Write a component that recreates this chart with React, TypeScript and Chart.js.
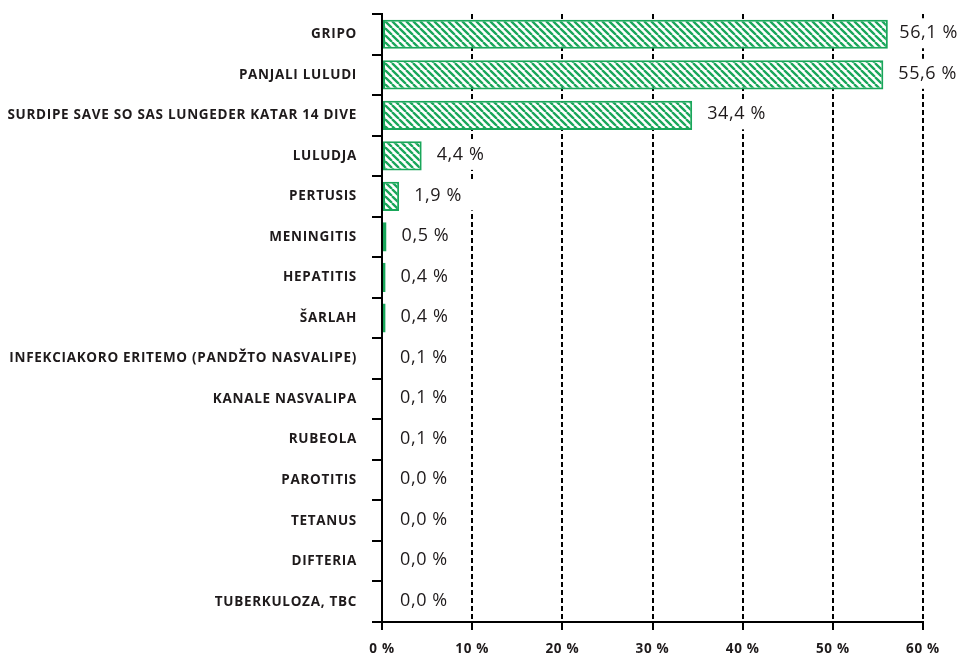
import { useEffect, useRef } from 'react';
import { Chart, registerables } from 'chart.js';

Chart.register(...registerables);

const categories = [
  'GRIPO',
  'PANJALI LULUDI',
  'SURDIPE SAVE SO SAS LUNGEDER KATAR 14 DIVE',
  'LULUDJA',
  'PERTUSIS',
  'MENINGITIS',
  'HEPATITIS',
  'ŠARLAH',
  'INFEKCIAKORO ERITEMO (PANDŽTO NASVALIPE)',
  'KANALE NASVALIPA',
  'RUBEOLA',
  'PAROTITIS',
  'TETANUS',
  'DIFTERIA',
  'TUBERKULOZA, TBC',
];

const values = [56.1, 55.6, 34.4, 4.4, 1.9, 0.5, 0.4, 0.4, 0.1, 0.1, 0.1, 0.0, 0.0, 0.0, 0.0];

const xTickValues = [0, 10, 20, 30, 40, 50, 60];
const xTickLabels = ['0 %', '10 %', '20 %', '30 %', '40 %', '50 %', '60 %'];

const valueTexts = values.map((v) => v.toFixed(1).replace('.', ',') + ' %');

export default function App() {
  const ref = useRef<HTMLCanvasElement>(null);

  useEffect(() => {
    const canvas = ref.current!;
    const green = '#19a65a';
    const ink = '#1e1a1b';

    const s = 7;
    const tile = document.createElement('canvas');
    tile.width = s;
    tile.height = s;
    const t = tile.getContext('2d')!;
    t.fillStyle = '#ffffff';
    t.fillRect(0, 0, s, s);
    t.strokeStyle = green;
    t.lineWidth = 2.3;
    t.beginPath();
    for (const k of [-s, 0, s]) {
      t.moveTo(k, 0);
      t.lineTo(k + s, s);
    }
    t.stroke();
    const pattern = canvas.getContext('2d')!.createPattern(tile, 'repeat');

    const spacingPlugin = {
      id: 'spacing',
      beforeDraw(c: any) {
        (c.ctx as any).letterSpacing = '0.7px';
      },
    };

    const valueLabelPlugin = {
      id: 'valueLabels',
      afterDatasetsDraw(c: any) {
        const meta = c.getDatasetMeta(0);
        const x0 = c.scales.x.getPixelForValue(0);
        const ctx = c.ctx as CanvasRenderingContext2D;
        ctx.save();
        ctx.font = '18px "Open Sans"';
        (ctx as any).letterSpacing = '0.6px';
        ctx.textBaseline = 'middle';
        ctx.textAlign = 'left';
        meta.data.forEach((bar: any, i: number) => {
          const text = valueTexts[i];
          const w = ctx.measureText(text).width;
          let x = Math.max(bar.x + 15, x0 + 18);
          x = Math.min(x, c.width - 2 - w);
          const y = bar.y - 1;
          ctx.fillStyle = '#ffffff';
          ctx.fillRect(x - 4, y - 15, w + 16, 30);
          ctx.fillStyle = ink;
          ctx.fillText(text, x, y);
        });
        ctx.restore();
      },
    };

    const chart = new Chart(canvas, {
      type: 'bar',
      data: {
        labels: categories,
        datasets: [
          {
            data: values,
            backgroundColor: pattern as any,
            borderColor: green,
            borderWidth: 2,
            borderSkipped: false,
            barPercentage: 0.72,
            categoryPercentage: 1,
          },
        ],
      },
      options: {
        indexAxis: 'y',
        responsive: false,
        animation: false,
        layout: { padding: { top: 14, right: 37, bottom: 0, left: 0 } },
        plugins: { legend: { display: false }, tooltip: { enabled: false } },
        scales: {
          x: {
            min: 0,
            max: 60,
            afterBuildTicks: (scale: any) => {
              scale.ticks = xTickValues.map((v) => ({ value: v }));
            },
            ticks: {
              callback: (v: any) => xTickLabels[xTickValues.indexOf(Number(v))] ?? '',
              font: { family: 'Open Sans', size: 13.5, weight: 'bold' },
              color: ink,
              padding: 11,
              maxRotation: 0,
            },
            grid: {
              color: '#000000',
              lineWidth: 2,
              tickLength: 8,
              tickColor: '#000000',
              tickWidth: 2,
            },
            border: { color: '#000000', width: 2, dash: [5, 3] },
            afterFit: (sc: any) => {
              sc.height = 36;
            },
          },
          y: {
            ticks: {
              font: { family: 'Open Sans', size: 13.5, weight: 'bold' },
              color: ink,
              padding: 15,
              autoSkip: false,
            },
            grid: {
              drawOnChartArea: false,
              color: '#000000',
              lineWidth: 2,
              tickLength: 10,
            },
            border: { color: '#000000', width: 2, z: 1 },
            afterFit: (sc: any) => {
              sc.width = 382;
              sc.paddingTop = 0;
              sc.paddingBottom = 0;
            },
          },
        },
      },
      plugins: [spacingPlugin, valueLabelPlugin],
    });

    return () => chart.destroy();
  }, []);

  return (
    <div style={{ position: 'absolute', left: 0, top: 0, width: 960, height: 658, background: '#fff' }}>
      <canvas ref={ref} width={960} height={658} style={{ display: 'block' }} />
    </div>
  );
}
